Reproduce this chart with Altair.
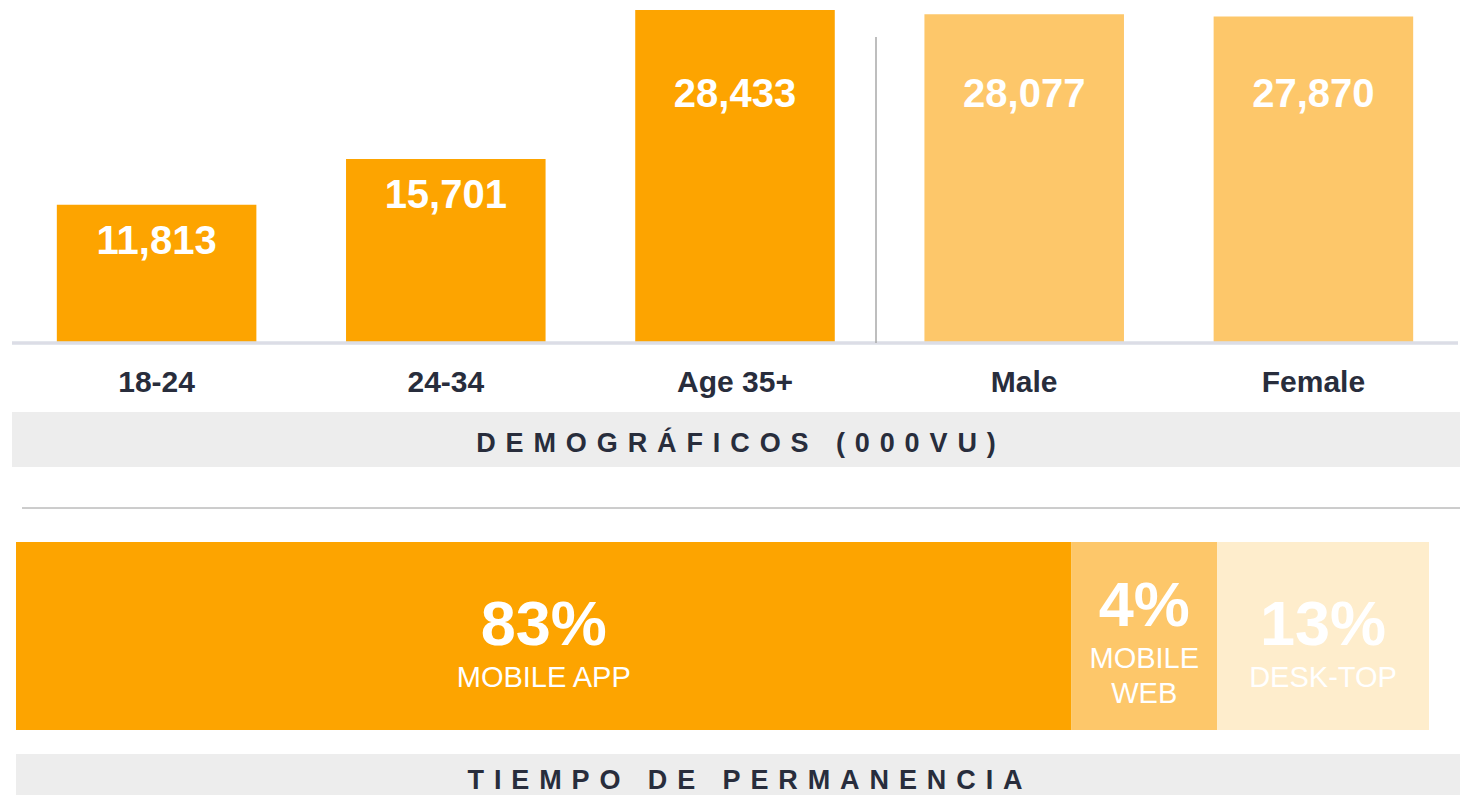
import altair as alt
import pandas as pd

# ---- data ----
demo_categories = ["18-24", "24-34", "Age 35+", "Male", "Female"]
demo_values = [11813, 15701, 28433, 28077, 27870]
demo_groups = ["age", "age", "age", "gender", "gender"]

device_labels = ["MOBILE APP", "MOBILE\nWEB", "DESK-TOP"]
device_pct = [83, 4, 13]
device_bar_share = [74.7, 10.3, 15.0]   # segment widths as drawn in the reference
device_lines = [1, 2, 1]

title_top = "DEMOGRÁFICOS (000VU)"
title_bottom = "TIEMPO DE PERMANENCIA"

FONT = "Liberation Sans"
DARK = "#282d3c"
ORANGE = "#FDA400"
LIGHT_ORANGE = "#FDC76A"
PALE_ORANGE = "#FEEDCC"


def spaced(s):
    gap = "\u2009\u2006"
    return (gap + " " + gap).join(gap.join(list(w)) for w in s.split(" "))


top_df = pd.DataFrame({"cat": demo_categories, "value": demo_values, "group": demo_groups})
dev_df = pd.DataFrame({
    "label": device_labels,
    "pct": device_pct,
    "share": device_bar_share,
    "lines": device_lines,
    "order": list(range(len(device_labels))),
})
one = pd.DataFrame({"k": [0]})

# ---- top bar chart ----
xs_top = alt.Scale(domain=demo_categories, range=[4, 1450], paddingInner=0.31, paddingOuter=0.155)
ys_top = alt.Scale(domain=[0, 28433], range=[335, 2], nice=False, zero=True)
x_top = alt.X("cat:N", sort=demo_categories, scale=xs_top, axis=None)

base_top = alt.Chart(top_df)
bars = base_top.mark_bar().encode(
    x=x_top,
    y=alt.Y("value:Q", scale=ys_top, axis=None),
    color=alt.Color("group:N", scale=alt.Scale(domain=["age", "gender"], range=[ORANGE, LIGHT_ORANGE]), legend=None),
)
value_labels = base_top.transform_calculate(
    label_v="min(datum.value, 24300)", label="format(datum.value, ',')"
).mark_text(font=FONT, fontSize=40, fontWeight="bold", color="white", baseline="middle", dy=37).encode(
    x=x_top,
    y=alt.Y("label_v:Q", scale=ys_top, axis=None),
    text="label:N",
)
cat_labels = base_top.mark_text(font=FONT, fontSize=30, fontWeight="bold", color=DARK, baseline="alphabetic").encode(
    x=x_top, y=alt.value(384), text="cat:N"
)
baseline = base_top.mark_rule(color="#dcdde6", strokeWidth=2.5).encode(
    x=alt.value(4), x2=alt.value(1450), y=alt.datum(0, type="quantitative", scale=ys_top, axis=None)
)
top_group = alt.layer(bars, value_labels, cat_labels, baseline)

# ---- decorations ----
vsep = alt.Chart(one).mark_rule(color="#a8a8a8", strokeWidth=1.5).encode(
    x=alt.value(868), y=alt.value(29), y2=alt.value(335)
)
band1 = alt.Chart(one).mark_rect(color="#EDEDED").encode(
    x=alt.value(4), x2=alt.value(1452), y=alt.value(404), y2=alt.value(459)
)
band1_text = alt.Chart(one).mark_text(font=FONT, fontSize=27, fontWeight="bold", color=DARK, baseline="alphabetic", align="center").encode(
    x=alt.value(728), y=alt.value(444), text=alt.value(spaced(title_top))
)
hsep = alt.Chart(one).mark_rule(color="#9a9a9a", strokeWidth=1).encode(
    x=alt.value(14), x2=alt.value(1452), y=alt.value(500)
)
band2 = alt.Chart(one).mark_rect(color="#EDEDED").encode(
    x=alt.value(8), x2=alt.value(1452), y=alt.value(746), y2=alt.value(800)
)
band2_text = alt.Chart(one).mark_text(font=FONT, fontSize=27, fontWeight="bold", color=DARK, baseline="alphabetic", align="center").encode(
    x=alt.value(737), y=alt.value(781), text=alt.value(spaced(title_bottom))
)

# ---- bottom stacked bar ----
xs_bot = alt.Scale(domain=[0, 100], range=[8, 1421], nice=False, zero=False)
base_bot = alt.Chart(dev_df).transform_stack(
    stack="share", groupby=[], as_=["s0", "s1"], sort=[alt.SortField("order", order="ascending")]
).transform_calculate(mid="(datum.s0 + datum.s1) / 2", pct_label="datum.pct + '%'")

seg = base_bot.mark_rect().encode(
    x=alt.X("s0:Q", scale=xs_bot, axis=None),
    x2="s1:Q",
    y=alt.value(534),
    y2=alt.value(722),
    color=alt.Color("label:N", scale=alt.Scale(domain=device_labels, range=[ORANGE, LIGHT_ORANGE, PALE_ORANGE]), legend=None),
)
x_mid = alt.X("mid:Q", scale=xs_bot, axis=None)
single = base_bot.transform_filter("datum.lines == 1")
double = base_bot.transform_filter("datum.lines == 2")
pct1 = single.mark_text(font=FONT, fontSize=63, fontWeight="bold", color="white", baseline="alphabetic", dy=9).encode(
    x=x_mid, y=alt.value(628), text="pct_label:N"
)
lab1 = single.mark_text(font=FONT, fontSize=29, color="white", baseline="alphabetic", dy=51, lineBreak="\n").encode(
    x=x_mid, y=alt.value(628), text="label:N"
)
pct2 = double.mark_text(font=FONT, fontSize=63, fontWeight="bold", color="white", baseline="alphabetic", dy=-10).encode(
    x=x_mid, y=alt.value(628), text="pct_label:N"
)
lab2 = double.mark_text(font=FONT, fontSize=29, color="white", baseline="alphabetic", dy=32, lineBreak="\n", lineHeight=35).encode(
    x=x_mid, y=alt.value(628), text="label:N"
)
bottom_group = alt.layer(seg, pct1, lab1, pct2, lab2)

chart = alt.layer(
    band1, band2, top_group, vsep, band1_text, hsep, bottom_group, band2_text
).resolve_scale(
    x="independent", y="independent", color="independent"
).properties(
    width=1452, height=787, autosize="none", padding=0, background="white"
).configure_view(stroke=None)

chart.save("out.html", embed_options={"renderer": "svg", "actions": False})
